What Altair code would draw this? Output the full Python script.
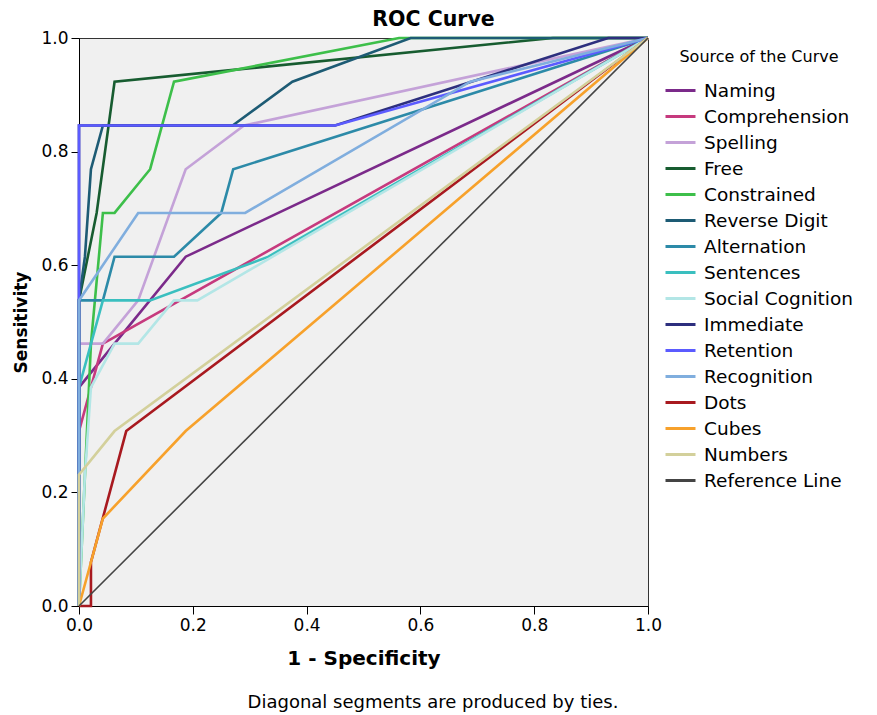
import altair as alt
import pandas as pd

# ROC curves: false positive rate (1 - specificity) and sensitivity for each test
series = ["Naming", "Comprehension", "Spelling", "Free", "Constrained",
          "Reverse Digit", "Alternation", "Sentences", "Social Cognition",
          "Immediate", "Retention", "Recognition", "Dots", "Cubes",
          "Numbers", "Reference Line"]

colors = ["#7b2a8a", "#c63a7e", "#c4a2d8", "#175c30", "#3dbf4a",
          "#1d5b74", "#2c8aa8", "#3abfbf", "#b3e6e6",
          "#2d2f7e", "#5b5bff", "#80aede", "#a8191f", "#f7a12b",
          "#d3d09b", "#444444"]

naming_fpr = [0, 0, 0.0625, 0.1875, 1]
naming_tpr = [0, 0.385, 0.462, 0.615, 1]

comprehension_fpr = [0, 0, 0.042, 1]
comprehension_tpr = [0, 0.308, 0.462, 1]

spelling_fpr = [0, 0, 0.042, 0.104, 0.1875, 0.29, 1]
spelling_tpr = [0, 0.462, 0.462, 0.538, 0.769, 0.846, 1]

free_fpr = [0, 0, 0.031, 0.0625, 0.833, 1]
free_tpr = [0, 0.538, 0.692, 0.923, 1, 1]

constrained_fpr = [0, 0.021, 0.042, 0.0625, 0.125, 0.167, 0.5625, 1]
constrained_tpr = [0, 0.462, 0.692, 0.692, 0.769, 0.923, 1, 1]

reverse_fpr = [0, 0, 0.0104, 0.021, 0.042, 0.27, 0.375, 0.583, 1]
reverse_tpr = [0, 0.538, 0.615, 0.769, 0.846, 0.846, 0.923, 1, 1]

alternation_fpr = [0, 0, 0.042, 0.0625, 0.167, 0.25, 0.271, 1]
alternation_tpr = [0, 0.538, 0.538, 0.615, 0.615, 0.692, 0.769, 1]

sentences_fpr = [0, 0, 0.042, 0.125, 0.333, 1]
sentences_tpr = [0, 0.385, 0.538, 0.538, 0.615, 1]

social_fpr = [0, 0.0104, 0.021, 0.0625, 0.104, 0.167, 0.208, 1]
social_tpr = [0, 0.231, 0.385, 0.462, 0.462, 0.538, 0.538, 1]

immediate_fpr = [0, 0, 0.45, 0.93, 1]
immediate_tpr = [0, 0.846, 0.846, 1, 1]

retention_fpr = [0, 0, 0.45, 1]
retention_tpr = [0, 0.846, 0.846, 1]

recognition_fpr = [0, 0, 0.104, 0.292, 0.6875, 1]
recognition_tpr = [0, 0.538, 0.692, 0.692, 0.923, 1]

dots_fpr = [0, 0.021, 0.021, 0.083, 1]
dots_tpr = [0, 0, 0.077, 0.308, 1]

cubes_fpr = [0, 0.042, 0.1875, 1]
cubes_tpr = [0, 0.154, 0.308, 1]

numbers_fpr = [0, 0, 0.0625, 1]
numbers_tpr = [0, 0.231, 0.308, 1]

reference_fpr = [0, 1]
reference_tpr = [0, 1]

curves = [
    (naming_fpr, naming_tpr), (comprehension_fpr, comprehension_tpr),
    (spelling_fpr, spelling_tpr), (free_fpr, free_tpr),
    (constrained_fpr, constrained_tpr), (reverse_fpr, reverse_tpr),
    (alternation_fpr, alternation_tpr), (sentences_fpr, sentences_tpr),
    (social_fpr, social_tpr), (immediate_fpr, immediate_tpr),
    (retention_fpr, retention_tpr), (recognition_fpr, recognition_tpr),
    (dots_fpr, dots_tpr), (cubes_fpr, cubes_tpr),
    (numbers_fpr, numbers_tpr), (reference_fpr, reference_tpr),
]

rows = []
for k, (name, (fx, ty)) in enumerate(zip(series, curves)):
    for i, (a, b) in enumerate(zip(fx, ty)):
        rows.append({"series": name, "rank": k, "idx": i, "fpr": a, "tpr": b,
                     "w": 1.6 if name == "Reference Line" else 2.6})
df = pd.DataFrame(rows)

FONT = "DejaVu Sans"
TICKS = [0, 0.2, 0.4, 0.6, 0.8, 1.0]

x_axis = alt.Axis(values=TICKS, format=".1f", grid=False, labelFlush=False,
                  tickSize=8, tickColor="#000", domainColor="#000",
                  labelFontSize=17, labelColor="#000", labelPadding=3,
                  title="1 - Specificity", titleFontSize=20, titleFontWeight="bold",
                  titleColor="#000", titlePadding=15)
y_axis = alt.Axis(values=TICKS, format=".1f", grid=False, labelFlush=False,
                  tickSize=8, tickColor="#000", domainColor="#000",
                  labelFontSize=17, labelColor="#000", labelPadding=3,
                  title="Sensitivity", titleFontSize=17, titleFontWeight="bold",
                  titleColor="#000", titlePadding=10)

lines = alt.Chart(df).mark_line(strokeJoin="miter", clip=False).encode(
    x=alt.X("fpr:Q", scale=alt.Scale(domain=[0, 1], nice=False), axis=x_axis),
    y=alt.Y("tpr:Q", scale=alt.Scale(domain=[0, 1], nice=False), axis=y_axis),
    color=alt.Color("series:N", sort=series,
                    scale=alt.Scale(domain=series, range=colors),
                    legend=alt.Legend(title="Source of the Curve", orient="none",
                                      legendX=585, legendY=11,
                                      titleFontSize=16, titleFontWeight="normal",
                                      titleColor="#000", titlePadding=9,
                                      titleAnchor="middle",
                                      labelFontSize=18.5, labelColor="#000",
                                      symbolType="stroke", symbolSize=900,
                                      symbolStrokeWidth=3, rowPadding=-2,
                                      labelOffset=7)),
    strokeWidth=alt.StrokeWidth("w:Q", scale=None),
    detail="series:N",
    order=alt.Order("idx:Q"),
)

note = alt.Chart(pd.DataFrame({"t": ["Diagonal segments are produced by ties."]})).mark_text(
    fontSize=18, font=FONT, color="#000", baseline="middle", align="center"
).encode(text="t:N", x=alt.value(354), y=alt.value(665))

chart = alt.layer(lines, note).properties(
    width=569, height=568,
    title=alt.TitleParams("ROC Curve", anchor="middle", dx=70, offset=-1,
                          fontSize=20.5, fontWeight="bold", font=FONT, color="#000"),
    autosize=alt.AutoSizeParams(type="none"),
    padding={"left": 79, "top": 38, "right": 229, "bottom": 109},
).configure(font=FONT, background="#ffffff").configure_view(
    fill="#f0f0f0", stroke="#333333", strokeWidth=1
)

chart.save("out.html", embed_options={"renderer": "svg", "actions": False})
